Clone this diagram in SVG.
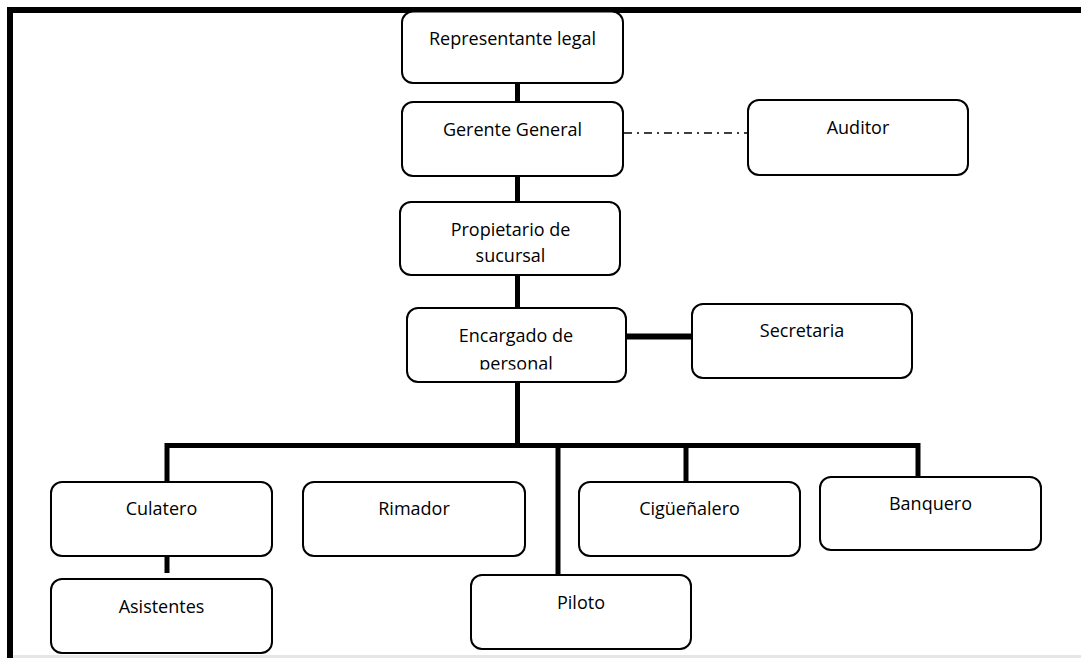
<svg xmlns="http://www.w3.org/2000/svg" width="1081" height="658" viewBox="0 0 1081 658">
<defs>
<style>
.box{fill:#fff;stroke:#000;stroke-width:2}
.t{font-family:"Open Sans","Liberation Sans",sans-serif;font-size:18px;fill:#000;text-anchor:middle}
.c{stroke:#000;stroke-width:5;fill:none}
.d{stroke:#000;stroke-width:1.5;stroke-dasharray:8 5 2 5;fill:none}
</style>
<clipPath id="encClip"><rect x="400" y="300" width="240" height="69.5"/></clipPath>
</defs>
<rect x="0" y="0" width="1081" height="658" fill="#fff"/>
<g id="frame">
<rect x="13" y="655" width="1068" height="3" fill="#e6e6e6"/>
<rect x="7" y="7" width="1074" height="6" fill="#000"/>
<rect x="7" y="7" width="6" height="651" fill="#000"/>
</g>
<g id="connectors">
<line class="c" x1="517.5" y1="83" x2="517.5" y2="102"/>
<line class="d" x1="624" y1="133" x2="748" y2="133"/>
<line class="c" x1="517.5" y1="176" x2="517.5" y2="202"/>
<line class="c" x1="517.5" y1="275" x2="517.5" y2="308"/>
<line class="c" x1="617" y1="336.5" x2="692" y2="336.5" style="stroke-width:6"/>
<line class="c" x1="517.5" y1="382" x2="517.5" y2="446"/>
<polyline class="c" points="167,482 167,445.5 920,445.5"/>
<line class="c" x1="918" y1="443" x2="918" y2="477"/>
<line class="c" x1="686" y1="445" x2="686" y2="482"/>
<line class="c" x1="558" y1="448" x2="558" y2="579"/>
<line class="c" x1="167" y1="556" x2="167" y2="573"/>
</g>
<g id="representante"><rect class="box" x="402" y="11.5" width="221" height="71.5" rx="11"/><text class="t" x="512.5" y="44.5">Representante legal</text></g>
<g id="gerente"><rect class="box" x="402" y="102" width="221" height="74" rx="11"/><text class="t" x="512.5" y="136">Gerente General</text></g>
<g id="auditor"><rect class="box" x="748" y="100" width="220" height="75" rx="11"/><text class="t" x="858" y="134">Auditor</text></g>
<g id="propietario"><rect class="box" x="400" y="202" width="220" height="73" rx="11"/><text class="t" x="510.5" y="236">Propietario de</text><text class="t" x="510.5" y="262">sucursal</text></g>
<g id="encargado"><rect class="box" x="407" y="308" width="219" height="74" rx="11"/><g clip-path="url(#encClip)"><text class="t" x="516" y="342">Encargado de</text><text class="t" x="516" y="370">personal</text></g></g>
<g id="secretaria"><rect class="box" x="692" y="304" width="220" height="74" rx="11"/><text class="t" x="802" y="337">Secretaria</text></g>
<g id="culatero"><rect class="box" x="51" y="482" width="221" height="74" rx="11"/><text class="t" x="161.5" y="515">Culatero</text></g>
<g id="rimador"><rect class="box" x="303" y="482" width="222" height="74" rx="11"/><text class="t" x="414" y="515">Rimador</text></g>
<g id="ciguenalero"><rect class="box" x="579" y="482" width="221" height="74" rx="11"/><text class="t" x="689.5" y="515">Cigüeñalero</text></g>
<g id="banquero"><rect class="box" x="820" y="477" width="221" height="73" rx="11"/><text class="t" x="930.5" y="510">Banquero</text></g>
<g id="asistentes"><rect class="box" x="51" y="579" width="221" height="74" rx="11"/><text class="t" x="161.5" y="613">Asistentes</text></g>
<g id="piloto"><rect class="box" x="471" y="575" width="220" height="74" rx="11"/><text class="t" x="581" y="609">Piloto</text></g>
</svg>
